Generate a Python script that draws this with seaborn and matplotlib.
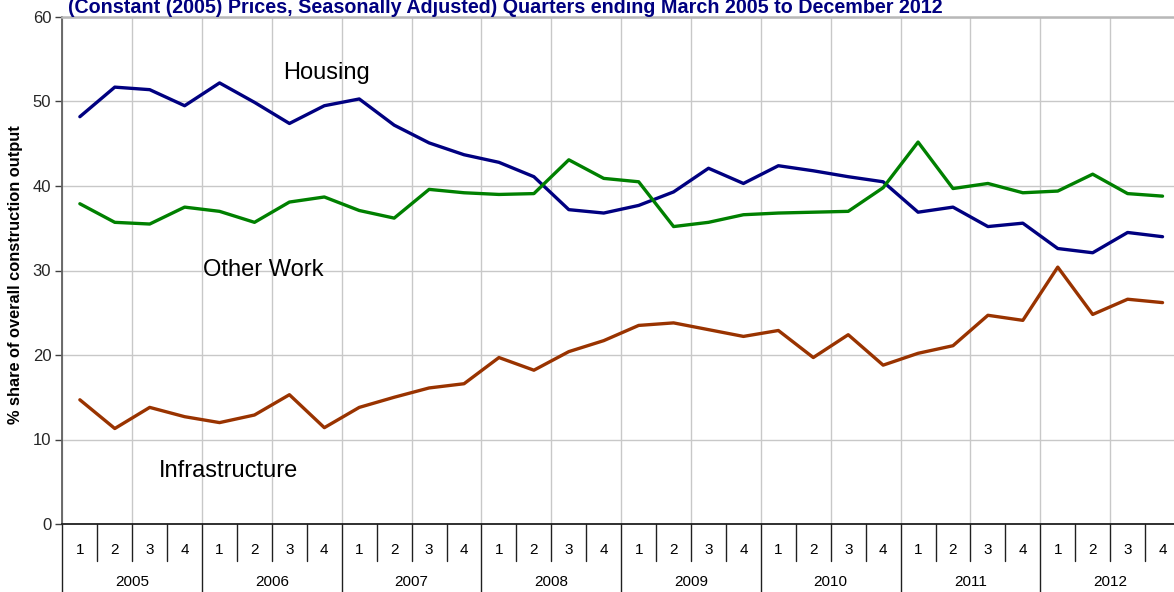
import numpy as np
import pandas as pd
import matplotlib
matplotlib.use("Agg")
import matplotlib.pyplot as plt
import seaborn as sns
from matplotlib.lines import Line2D

# ---------------- data ----------------
years = ['2005', '2006', '2007', '2008', '2009', '2010', '2011', '2012']
quarters = ['1', '2', '3', '4']

housing = [48.2, 51.7, 51.4, 49.5, 52.2, 49.9, 47.4, 49.5,
           50.3, 47.2, 45.1, 43.7, 42.8, 41.1, 37.2, 36.8,
           37.7, 39.3, 42.1, 40.3, 42.4, 41.8, 41.1, 40.5,
           36.9, 37.5, 35.2, 35.6, 32.6, 32.1, 34.5, 34.0]
other_work = [37.9, 35.7, 35.5, 37.5, 37.0, 35.7, 38.1, 38.7,
              37.1, 36.2, 39.6, 39.2, 39.0, 39.1, 43.1, 40.9,
              40.5, 35.2, 35.7, 36.6, 36.8, 36.9, 37.0, 39.8,
              45.2, 39.7, 40.3, 39.2, 39.4, 41.4, 39.1, 38.8]
infrastructure = [14.7, 11.3, 13.8, 12.7, 12.0, 12.9, 15.3, 11.4,
                  13.8, 15.0, 16.1, 16.6, 19.7, 18.2, 20.4, 21.7,
                  23.5, 23.8, 23.0, 22.2, 22.9, 19.7, 22.4, 18.8,
                  20.2, 21.1, 24.7, 24.1, 30.4, 24.8, 26.6, 26.2]

series_names = ['Housing', 'Other Work', 'Infrastructure']
colors = {'Housing': '#000080', 'Other Work': '#008000', 'Infrastructure': '#993300'}
title = "(Constant (2005) Prices, Seasonally Adjusted) Quarters ending March 2005 to December 2012"
ylabel = "% share of overall construction output"

# ---------------- style ----------------
sns.set_style("white")
plt.rcParams['font.family'] = ['Liberation Sans', 'DejaVu Sans']

W, H = 1174, 592
fig = plt.figure(figsize=(W / 100, H / 100), dpi=100)
left_px, right_px, top_px, bot_px = 62.4, 1180, 17, 524
ax = fig.add_axes([left_px / W, 1 - bot_px / H, (right_px - left_px) / W, (bot_px - top_px) / H])

n = len(years) * len(quarters)
pos = np.arange(n) + 0.5
df = pd.DataFrame({
    'pos': np.tile(pos, 3),
    'value': housing + other_work + infrastructure,
    'series': np.repeat(series_names, n),
})
sns.lineplot(data=df, x='pos', y='value', hue='series', palette=colors,
             linewidth=2.4, legend=False, ax=ax, zorder=3)

ax.set_xlim(0, n)
ax.set_ylim(0, 60)
ax.set_yticks(range(0, 61, 10))
ax.set_xticks(np.arange(0, n + 1, 2))
ax.set_xticklabels([])
ax.tick_params(axis='x', length=0)
ax.tick_params(axis='y', length=5, width=1, color='#404040', labelsize=12, pad=3,
               direction='out', left=True)
ax.grid(True, color='#c8c8c8', linewidth=1)
ax.set_xlabel('')
ax.set_ylabel('')

ax.spines['left'].set_color('#606060')
ax.spines['left'].set_linewidth(1.3)
ax.spines['bottom'].set_color('#202020')
ax.spines['bottom'].set_linewidth(1.3)
ax.spines['top'].set_color('#b8b8b8')
ax.spines['top'].set_linewidth(1.8)
ax.spines['right'].set_visible(False)

# ---------------- category axis (quarters / years) ----------------
trans = ax.get_xaxis_transform()
ax_h = bot_px - top_px
q_lab_y = -(550 - bot_px) / ax_h
y_lab_y = -(582 - bot_px) / ax_h
q_sep_y = -(561 - bot_px) / ax_h
y_sep_y = -(600 - bot_px) / ax_h

for i in range(n):
    ax.text(i + 0.5, q_lab_y, quarters[i % 4], transform=trans, ha='center', va='center',
            fontsize=11, color='#000000', clip_on=False)
for k, yr in enumerate(years):
    ax.text(k * 4 + 2, y_lab_y, yr, transform=trans, ha='center', va='center',
            fontsize=11, color='#000000', clip_on=False)
for i in range(n + 1):
    yend = y_sep_y if i % 4 == 0 else q_sep_y
    ax.add_line(Line2D([i, i], [0, yend], transform=trans, color='#202020',
                       linewidth=1, clip_on=False))

# ---------------- annotations ----------------
ax.text(7.55, 53.4, 'Housing', fontsize=17, ha='center', va='center', color='#000000')
ax.text(5.75, 30.1, 'Other Work', fontsize=17, ha='center', va='center', color='#000000')
ax.text(4.75, 6.3, 'Infrastructure', fontsize=17, ha='center', va='center', color='#000000')

fig.text(16 / W, 1 - 275 / H, ylabel, rotation=90, ha='center', va='center',
         fontsize=11.8, fontweight='bold', color='#000000')
fig.text(68 / W, 1 - 13 / H, title, ha='left', va='baseline', fontsize=14.2,
         fontweight='bold', color='#000080')

fig.savefig('out.png', dpi=100)
